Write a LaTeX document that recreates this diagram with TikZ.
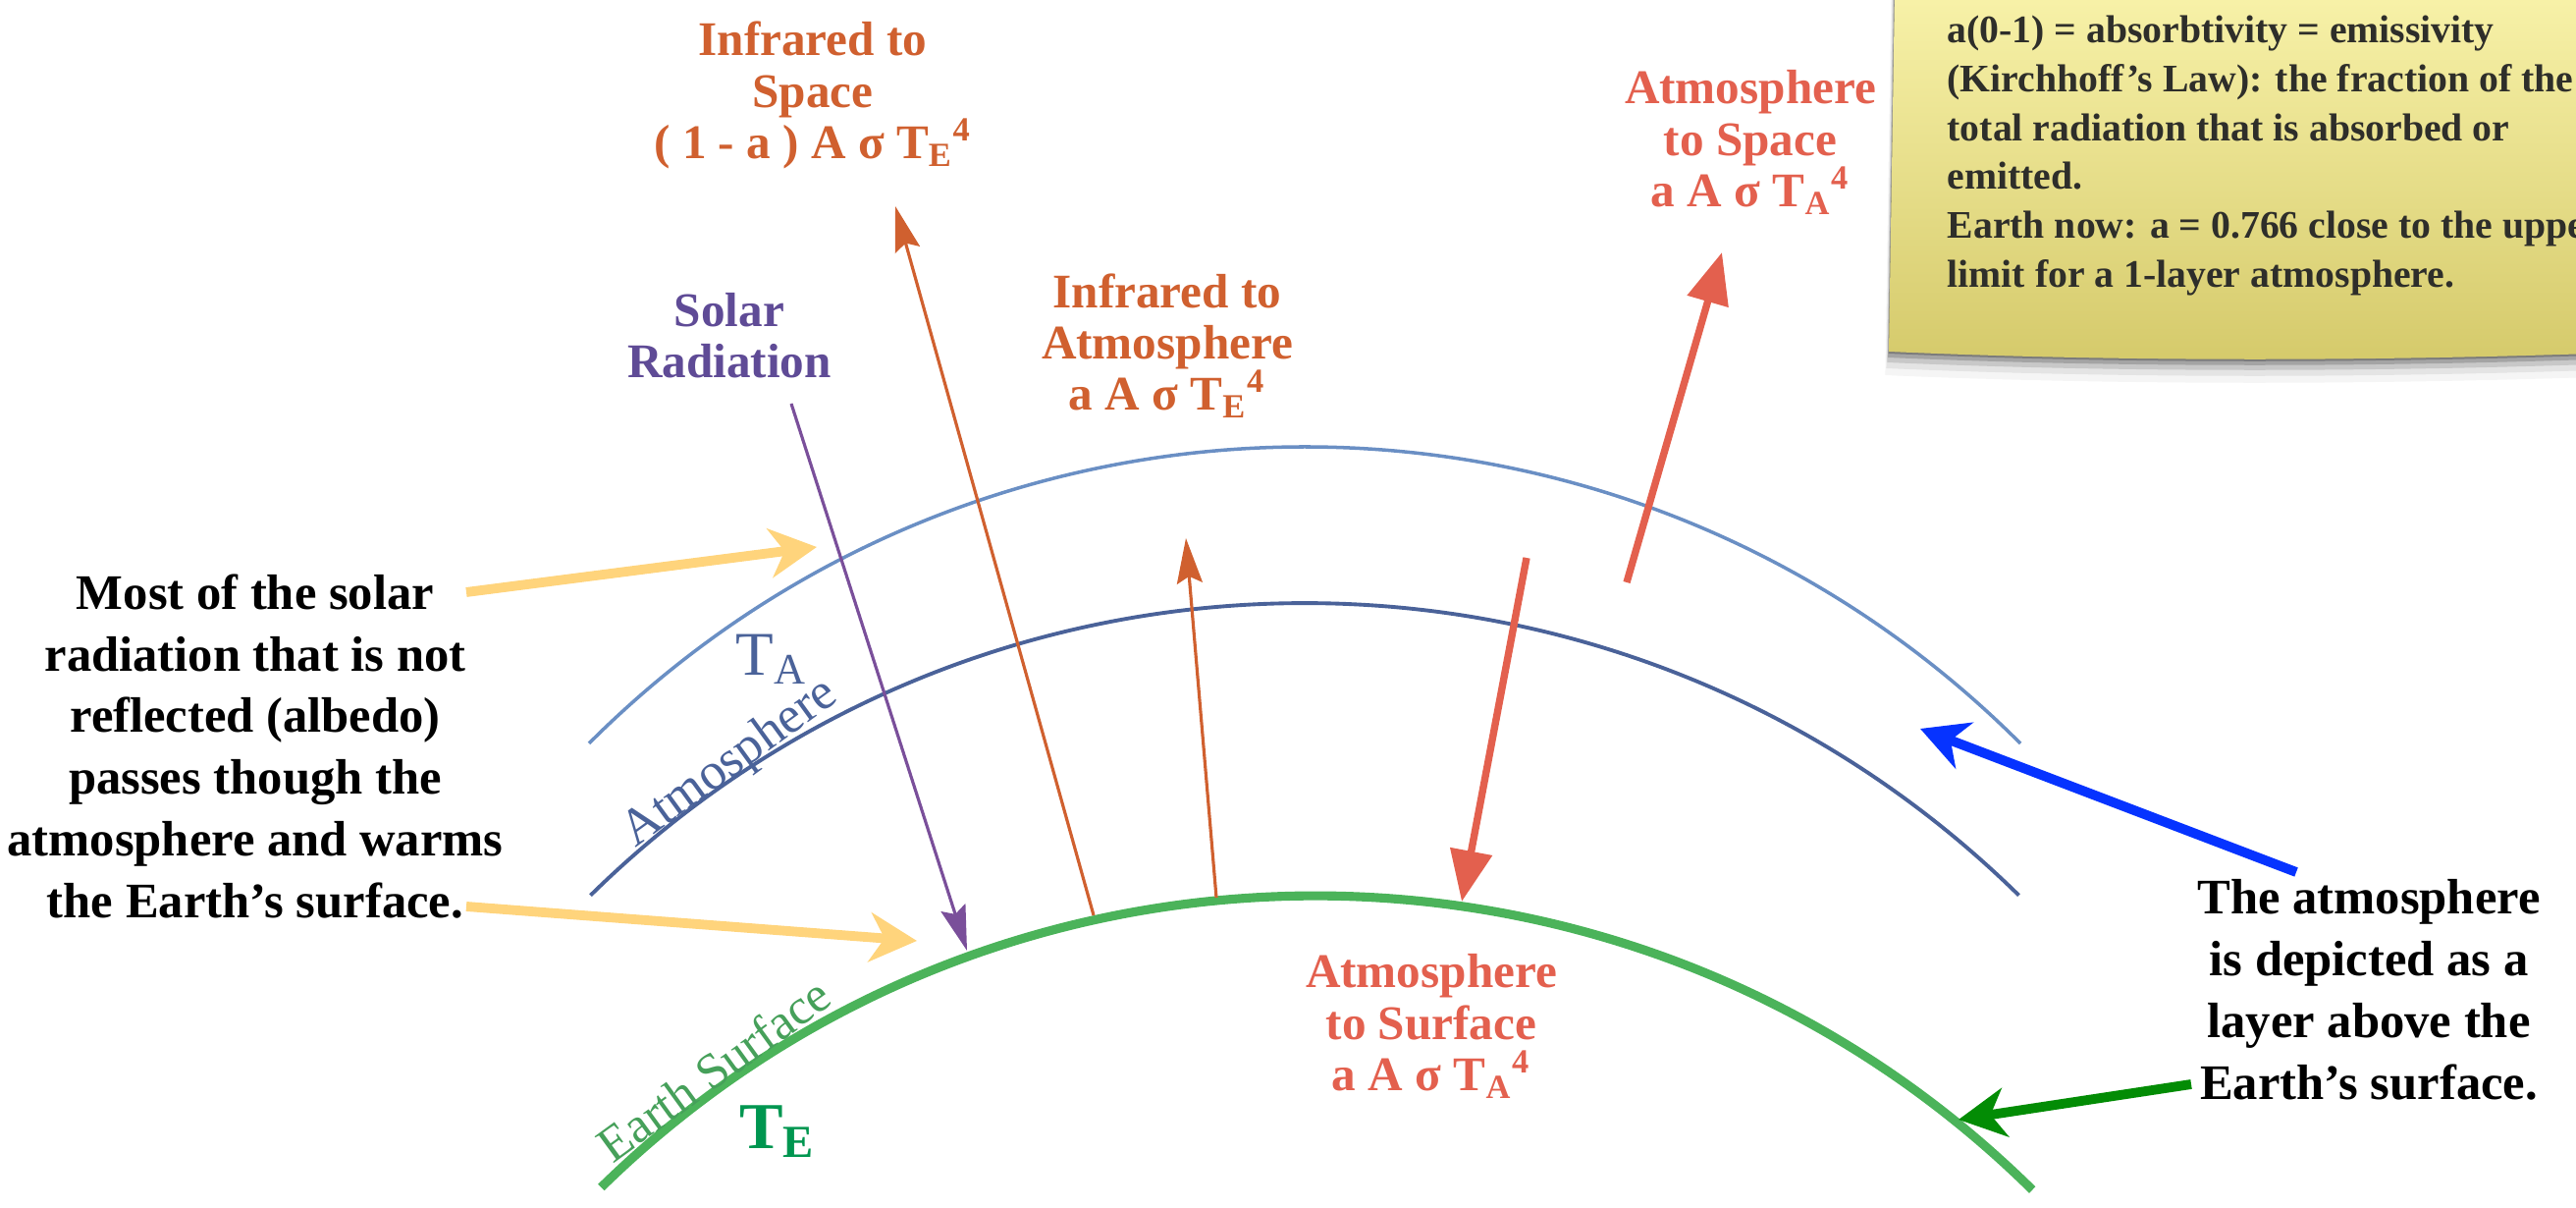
\documentclass[tikz,border=0pt]{standalone}
\usepackage{fontspec}
\setmainfont{Liberation Serif}
\usetikzlibrary{arrows.meta}
\definecolor{irorange}{HTML}{D0602F}
\definecolor{atmred}{HTML}{E3604E}
\definecolor{solpurple}{HTML}{5F4B96}
\definecolor{arrpurple}{HTML}{7A4F9A}
\definecolor{skyblue}{HTML}{6A8FC4}
\definecolor{layblue}{HTML}{4A6299}
\definecolor{surfgreen}{HTML}{4BB35A}
\definecolor{labgreen}{HTML}{46A05A}
\definecolor{tegreen}{HTML}{009650}
\definecolor{hintyellow}{HTML}{FFD47C}
\definecolor{hintblue}{HTML}{0633FF}
\definecolor{hintgreen}{HTML}{038C05}
\definecolor{notetop}{HTML}{F8F2A9}
\definecolor{notebot}{HTML}{D5CA6B}
\definecolor{notetext}{HTML}{2E2E2A}
\tikzset{
  >={Stealth[length=4.6mm,width=2.6mm,inset=0.7mm]},
  lbl/.style={align=center,inner sep=0pt,font=\bfseries\fontsize{14}{14.9}\selectfont},
  ann/.style={align=center,inner sep=0pt,font=\bfseries\fontsize{14.4}{17.9}\selectfont},
  flux/.style={->,line width=0.9pt},
  hot/.style={-{Triangle[length=5.2mm,width=4.2mm]},draw=atmred,line width=2.1pt},
  hint/.style={-{Stealth[length=4.8mm,width=5mm,inset=1.5mm]},line width=2.8pt},
}
\begin{document}
\begin{tikzpicture}
\clip (0,0) rectangle (26.24,12.30);
\foreach \s/\o in {0.02/0.25,0.06/0.18,0.11/0.12,0.17/0.07,0.24/0.04}{
  \fill[black,opacity=\o] (19.30-0.15*\s,12.40) -- (19.24-0.15*\s,8.72-\s) .. controls (21.5,8.62-\s) and (24,8.62-\s) .. (26.40,8.70-\s) -- (26.40,12.40) -- cycle;}
\shade[top color=notetop,bottom color=notebot] (19.30,12.40) -- (19.24,8.72) .. controls (21.5,8.62) and (24,8.62) .. (26.40,8.70) -- (26.40,12.40) -- cycle;
\node[anchor=north west,align=left,inner sep=0pt,text=notetext,font=\bfseries\fontsize{11.3}{14.2}\selectfont] (note) at (19.83,12.15)
  {a(0-1) = absorbtivity = emissivity\\(Kirchhoff’s Law): the fraction of the\\total radiation that is absorbed or\\emitted.\\Earth now: a = 0.766 close to the upper\\limit for a 1-layer atmosphere.};

\draw[skyblue,line width=1pt] (13.29,-2.56) ++(135:10.31) arc[start angle=135,end angle=45,radius=10.31];
\draw[layblue,line width=1.1pt] (13.29,-4.22) ++(134.5:10.38) arc[start angle=134.5,end angle=45.5,radius=10.38];
\draw[surfgreen,line width=2.6pt] (13.40,-7.22) ++(134.4:10.40) arc[start angle=134.4,end angle=45.4,radius=10.40];

\node[lbl,text=irorange] (irspace) at (8.28,11.33) {Infrared to\\Space\\( 1 - a ) A σ T\textsubscript{E}\textsuperscript{4}};
\node[lbl,text=solpurple] (solar) at (7.43,8.88) {Solar\\Radiation};
\node[lbl,text=irorange] (iratm) at (11.89,8.78) {Infrared to\\Atmosphere\\a A σ T\textsubscript{E}\textsuperscript{4}};
\node[lbl,text=atmred] (atmspace) at (17.83,10.85) {Atmosphere\\to Space\\a A σ T\textsubscript{A}\textsuperscript{4}};
\node[lbl,text=atmred] (atmsurf) at (14.58,1.85) {Atmosphere\\to Surface\\a A σ T\textsubscript{A}\textsuperscript{4}};
\node[text=layblue,font=\fontsize{18}{18}\selectfont] (ta) at (7.86,5.59) {T\textsubscript{A}};
\node[text=layblue,rotate=36,font=\fontsize{15}{15}\selectfont] (atmlayer) at (7.44,4.52) {Atmosphere};
\node[text=labgreen,rotate=36,font=\fontsize{14.5}{14.5}\selectfont] (earthlayer) at (7.27,1.41) {Earth Surface};
\node[text=tegreen,font=\bfseries\fontsize{19}{19}\selectfont] (te) at (7.92,0.78) {T\textsubscript{E}};

\node[ann] (solarnote) at (2.60,4.70) {Most of the solar\\radiation that is not\\reflected (albedo)\\passes though the\\atmosphere and warms\\the Earth’s surface.};
\node[ann] (layernote) at (24.13,2.22) {The atmosphere\\is depicted as a\\layer above the\\Earth’s surface.};

\coordinate (irs0) at (11.14,2.98); \coordinate (irs1) at (9.12,10.20);
\coordinate (sol0) at (8.06,8.19); \coordinate (sol1) at (9.85,2.62);
\coordinate (ira0) at (12.39,3.16); \coordinate (ira1) at (12.08,6.82);
\coordinate (ats0) at (16.57,6.37); \coordinate (ats1) at (17.54,9.73);
\coordinate (atg0) at (15.55,6.62); \coordinate (atg1) at (14.89,3.12);
\coordinate (up0) at (4.75,6.27); \coordinate (up1) at (8.32,6.73);
\coordinate (lo0) at (4.75,3.07); \coordinate (lo1) at (9.34,2.72);
\coordinate (bl0) at (23.39,3.42); \coordinate (bl1) at (19.56,4.88);
\coordinate (gr0) at (22.32,1.26); \coordinate (gr1) at (19.95,0.90);

\begin{scope}[flux]
\draw[irorange] (irs0)--(irs1);
\draw[arrpurple] (sol0)--(sol1);
\draw[irorange] (ira0)--(ira1);
\end{scope}
\draw[hot] (ats0)--(ats1);
\draw[hot] (atg0)--(atg1);
\draw[hint,hintyellow] (up0)--(up1);
\draw[hint,hintyellow] (lo0)--(lo1);
\draw[hint,hintblue] (bl0)--(bl1);
\draw[hint,hintgreen] (gr0)--(gr1);
\end{tikzpicture}
\end{document}
